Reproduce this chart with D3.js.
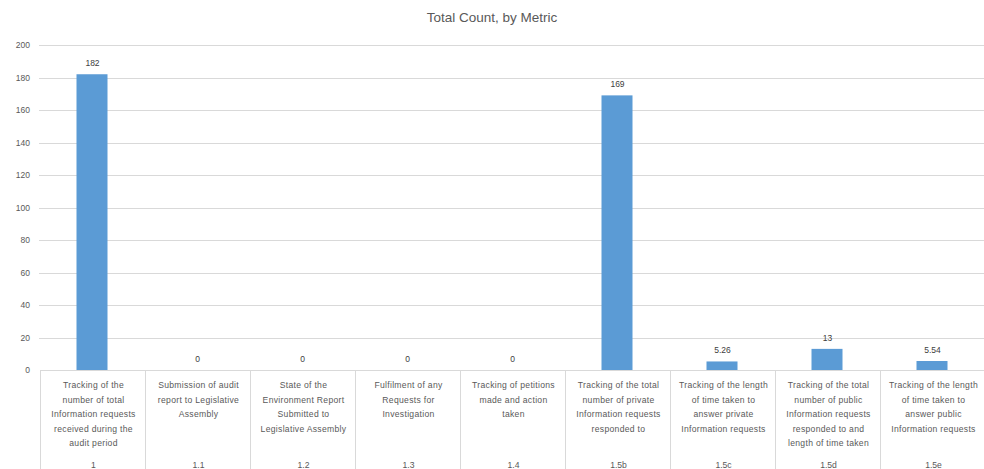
<!DOCTYPE html>
<html>
<head>
<meta charset="utf-8">
<script src="https://cdn.jsdelivr.net/npm/d3@7"></script>
<style>
  body { margin: 0; background: #fff; }
  svg { font-family: "Liberation Sans", "DejaVu Sans", sans-serif; }
</style>
</head>
<body>
<svg id="chart" width="984" height="469"></svg>
<script>
// chart data
var codes = ["1", "1.1", "1.2", "1.3", "1.4", "1.5b", "1.5c", "1.5d", "1.5e"];
var descriptions = [
  ["Tracking of the", "number of total", "Information requests", "received during the", "audit period"],
  ["Submission of audit", "report to Legislative", "Assembly"],
  ["State of the", "Environment Report", "Submitted to", "Legislative Assembly"],
  ["Fulfilment of any", "Requests for", "Investigation"],
  ["Tracking of petitions", "made and action", "taken"],
  ["Tracking of the total", "number of private", "Information requests", "responded to"],
  ["Tracking of the length", "of time taken to", "answer private", "Information requests"],
  ["Tracking of the total", "number of public", "Information requests", "responded to and", "length of time taken"],
  ["Tracking of the length", "of time taken to", "answer public", "Information requests"]
];
var values = [182, 0, 0, 0, 0, 169, 5.26, 13, 5.54];
var valueLabels = ["182", "0", "0", "0", "0", "169", "5.26", "13", "5.54"];
var yTicks = [0, 20, 40, 60, 80, 100, 120, 140, 160, 180, 200];

var svg = d3.select("#chart");
var plotLeft = 40, plotRight = 985, plotTop = 45, plotBottom = 370;

var x = d3.scaleBand().domain(codes).range([plotLeft, plotRight]).paddingInner(0).paddingOuter(0);
var y = d3.scaleLinear().domain([0, 200]).range([plotBottom, plotTop]);

// title
svg.append("text")
  .attr("x", 492).attr("y", 22)
  .attr("text-anchor", "middle")
  .attr("font-size", 13.5)
  .attr("fill", "#595959")
  .text("Total Count, by Metric");

// gridlines
svg.append("g").selectAll("line").data(yTicks.slice(1)).enter().append("line")
  .attr("x1", plotLeft - 1).attr("x2", 984)
  .attr("y1", function (d) { return Math.round(y(d)) + 0.5; })
  .attr("y2", function (d) { return Math.round(y(d)) + 0.5; })
  .attr("stroke", "#d9d9d9").attr("stroke-width", 1);

// y axis labels
var yAxis = d3.axisLeft(y).tickValues(yTicks).tickSize(0).tickPadding(0);
var ya = svg.append("g").attr("transform", "translate(30,0)").call(yAxis);
ya.select(".domain").remove();
ya.selectAll("text").attr("font-size", 8.5).attr("fill", "#595959")
  .attr("font-family", "Liberation Sans, sans-serif");

// bars
var barW = 31;
svg.append("g").selectAll("rect").data(values).enter().append("rect")
  .attr("x", function (d, i) { return x(codes[i]) + x.bandwidth() / 2 - barW / 2 - 0.5; })
  .attr("y", function (d) { return y(d); })
  .attr("width", barW)
  .attr("height", function (d) { return plotBottom - y(d); })
  .attr("fill", "#5b9bd5");

// value labels
svg.append("g").selectAll("text").data(values).enter().append("text")
  .attr("x", function (d, i) { return x(codes[i]) + x.bandwidth() / 2; })
  .attr("y", function (d) { return y(d) - 8; })
  .attr("text-anchor", "middle")
  .attr("font-size", 8.5)
  .attr("fill", "#404040")
  .text(function (d, i) { return valueLabels[i]; });

// category table
var tbl = svg.append("g");
tbl.append("line")
  .attr("x1", plotLeft).attr("x2", 984)
  .attr("y1", plotBottom + 0.5).attr("y2", plotBottom + 0.5)
  .attr("stroke", "#d9d9d9");
tbl.selectAll("line.v").data(codes.concat(["end"])).enter().append("line")
  .attr("class", "v")
  .attr("x1", function (d, i) { return plotLeft + i * x.bandwidth() + 0.5; })
  .attr("x2", function (d, i) { return plotLeft + i * x.bandwidth() + 0.5; })
  .attr("y1", plotBottom).attr("y2", 469)
  .attr("stroke", "#d9d9d9");

var cat = tbl.selectAll("g.cat").data(codes).enter().append("g")
  .attr("class", "cat")
  .attr("transform", function (d) { return "translate(" + (x(d) + x.bandwidth() / 2 + 1) + ",0)"; });
cat.each(function (d, i) {
  var g = d3.select(this);
  descriptions[i].forEach(function (line, k) {
    g.append("text")
      .attr("y", 388 + k * 14.5)
      .attr("text-anchor", "middle")
      .attr("font-size", 8.6)
      .attr("letter-spacing", 0.3)
      .attr("fill", "#595959")
      .text(line);
  });
  g.append("text")
    .attr("y", 468)
    .attr("text-anchor", "middle")
    .attr("font-size", 8.6)
    .attr("fill", "#595959")
    .text(d);
});
</script>
</body>
</html>
